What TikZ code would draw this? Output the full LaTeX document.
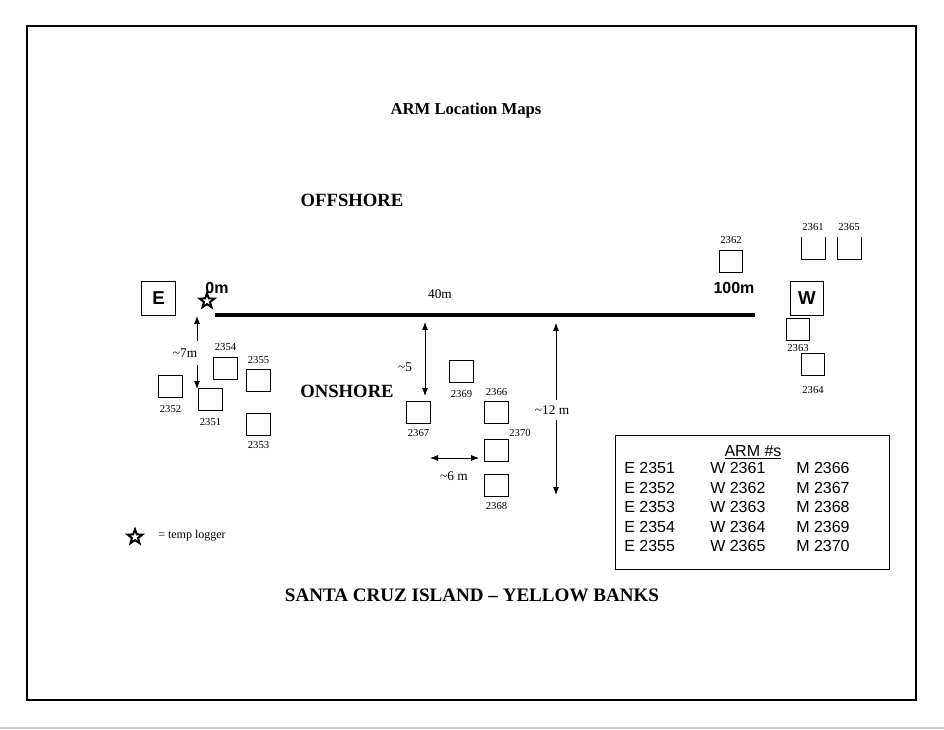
\documentclass[tikz,border=0pt]{standalone}
\usepackage{fontspec}
\setmainfont{Liberation Serif}
\newfontfamily\arialfont{Liberation Sans}
\usetikzlibrary{positioning,arrows.meta,shapes.geometric}
\tikzset{
  armbox/.style={draw, line width=0.6pt, minimum width=17.5pt,
                 minimum height=16.5pt, inner sep=0pt},
  openbox/.style={armbox, draw=none},
  endbox/.style={draw, line width=0.8pt, minimum width=25pt, minimum height=25pt,
                 inner sep=0pt, font=\arialfont\bfseries\fontsize{14}{16}\selectfont},
  num/.style={font=\fontsize{8}{9}\selectfont, inner sep=1pt},
  dist/.style={font=\fontsize{10}{12}\selectfont, inner sep=1pt},
  % labels that break an arrow: opaque
  onarrow/.style={dist, fill=white, inner xsep=1pt},
  metre/.style={font=\arialfont\bfseries\fontsize{12}{14}\selectfont, inner sep=1pt},
  heading/.style={font=\bfseries\fontsize{14}{16}\selectfont, inner sep=1pt},
  logger/.style={star, star points=5, star point ratio=2.4, draw,
                 line width=1.5pt, minimum size=11.5pt, inner sep=0pt},
  span/.style={{Latex[length=6pt,width=4.5pt]}-{Latex[length=6pt,width=4.5pt]},
               line width=0.6pt},
  row/.style={font=\arialfont\fontsize{12}{14}\selectfont, anchor=west, inner sep=0pt},
}

\begin{document}
\begin{tikzpicture}[x=0.75pt, y=-0.75pt]
\useasboundingbox (0,0) rectangle (944,730);

%% -- page frame and headings --------------------------------------------
\draw[line width=0.9pt] (27,26) rectangle (916,700);
\draw[black!20, line width=0.8pt] (0,728) -- (944,728);
\node[font=\bfseries\fontsize{12.5}{14}\selectfont] (title) at (466,110) {ARM Location Maps};
\node[heading] (off) at (352,200) {OFFSHORE};
\node[heading] (on) at (347,391) {ONSHORE};
\node[heading, font=\bfseries\fontsize{14.3}{16}\selectfont] (site) at (472,595)
  {SANTA CRUZ ISLAND -- YELLOW BANKS};

%% -- the transect ---------------------------------------------------------
\coordinate (zero) at (215,315);
\coordinate (hundred) at (755,315);
\draw[line width=3pt] (zero) -- (hundred);
\node[endbox] (E) at (158.5,298.5) {E};
\node[endbox] (W) at (807,298.5) {W};
\node[logger] (tl) at (207,301) {};
\node[metre] (m0) at (217,288) {0m};
\node[metre] (m100) at (734,288) {100m};
\node[dist] (m40) at (440,294) {40m};

%% -- east end ---------------------------------------------------------------
\node[armbox] (b2354) at (225.5,368) {};
\node[armbox] (b2355) at (258.5,380.5) {};
\node[armbox] (b2352) at (170.5,386) {};
\node[armbox] (b2351) at (210.5,399) {};
\node[armbox] (b2353) at (258.5,424) {};
\node[num, above=3pt of b2354] {2354};
\node[num, above=3pt of b2355] {2355};
\node[num, below=4.5pt of b2352] {2352};
\node[num, below=4.5pt of b2351] {2351};
\node[num, below=3pt of b2353] {2353};

\coordinate (e7a) at (197,316);
\coordinate (e7b) at (197,389);
\draw[span] (e7a) -- (e7b);
\node[onarrow, inner ysep=6pt] (d7) at (185,353) {\textasciitilde7m};

%% -- middle -----------------------------------------------------------------
\node[armbox] (b2369) at (461.5,371) {};
\node[armbox] (b2367) at (418.5,412) {};
\node[armbox] (b2366) at (496.5,412) {};
\node[armbox] (b2370) at (496.5,450) {};
\node[armbox] (b2368) at (496.5,485) {};
\node[num, below=4.5pt of b2369] {2369};
\node[num, below=3.5pt of b2367] {2367};
\node[num, above=2.5pt of b2366] {2366};
\node[num] (l2370) at (520,433) {2370};
\node[num, below=3.5pt of b2368] {2368};

\coordinate (m5a) at (425,322);
\coordinate (m5b) at (425,396);
\draw[span] (m5a) -- (m5b);
\node[dist] (d5) at (405,367) {\textasciitilde5};

\coordinate (m6a) at (430,458);
\coordinate (m6b) at (479,458);
\draw[span] (m6a) -- (m6b);
\node[dist] (d6) at (454,476) {\textasciitilde6 m};

\coordinate (m12a) at (556,323);
\coordinate (m12b) at (556,495);
\draw[span] (m12a) -- (m12b);
\node[onarrow, inner ysep=4pt] (d12) at (552,410) {\textasciitilde12 m};

%% -- west end ---------------------------------------------------------------
\node[armbox] (b2362) at (731,261) {};
\node[armbox] (b2363) at (798,329.5) {};
\node[armbox] (b2364) at (813,364.5) {};
\node[openbox] (b2361) at (813,248.5) {};
\node[openbox] (b2365) at (849,248.5) {};
\draw[line width=0.6pt] (b2361.north west) -- (b2361.south west)
  -- (b2361.south east) -- (b2361.north east);
\draw[line width=0.6pt] (b2365.north west) -- (b2365.south west)
  -- (b2365.south east) -- (b2365.north east);
\node[num, above=3pt of b2362] {2362};
\node[num, above=3.5pt of b2361] {2361};
\node[num, above=3.5pt of b2365] {2365};
\node[num, below=1.5pt of b2363] {2363};
\node[num, below=6.5pt of b2364] {2364};

%% -- key ----------------------------------------------------------------------
\node[logger] (keystar) at (135,537) {};
\node[font=\fontsize{9}{11}\selectfont, anchor=west, inner sep=0pt] (keytxt)
  at (158,536) {= temp logger};

\node[draw, line width=0.6pt, minimum width=205.5pt, minimum height=101pt,
      inner sep=0pt] (tab) at (752,502.5) {};
\node[font=\arialfont\fontsize{12}{14}\selectfont, anchor=base, inner sep=0pt]
  (tabhead) at (753,456) {\underline{ARM \#s}};
\foreach \k in {1,...,5}{
  \pgfmathtruncatemacro\ne{2350+\k}
  \pgfmathtruncatemacro\nw{2360+\k}
  \pgfmathtruncatemacro\nm{2365+\k}
  \node[row] (e\k) at (624,{448.5+19.5*\k}) {E \ne};
  \node[row] (w\k) at (710,{448.5+19.5*\k}) {W \nw};
  \node[row] (m\k) at (796,{448.5+19.5*\k}) {M \nm};
}

\end{tikzpicture}
\end{document}
